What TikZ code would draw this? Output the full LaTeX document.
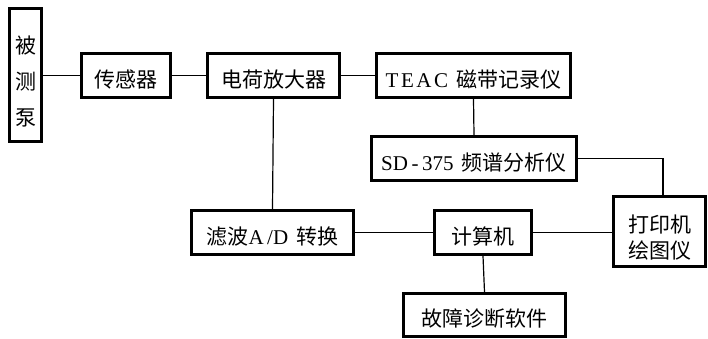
\documentclass[tikz,border=0pt]{standalone}
\usepackage{fontspec}
\setmainfont{Noto Sans CJK SC}
\newfontfamily\latinserif{Liberation Serif}
\begin{document}
\begin{tikzpicture}[x=1pt,y=1pt,
  box/.style={draw=black,line width=3pt,fill=white,inner sep=0pt,minimum height=44pt,
    text height=24pt,text depth=1pt,font=\fontsize{21}{25}\selectfont},
  conn/.style={draw=black,line width=1.2pt}]
\useasboundingbox (0,0) rectangle (708,338);
\node[box,minimum width=32pt,minimum height=133pt,text height=40pt,text depth=83pt,font=\fontsize{21}{36}\selectfont] (pump) at (25.5,263)
  {\begin{tabular}[t]{@{}c@{}}被\\测\\泵\end{tabular}};
\node[box,minimum width=89pt] (sensor) at (126,262.5) {传感器};
\node[box,minimum width=132pt] (amp) at (273.5,262.5) {电荷放大器};
\node[box,minimum width=194pt] (teac) at (473.5,262.5) {{\latinserif\addfontfeature{LetterSpace=12}TEAC}\, 磁带记录仪};
\node[box,minimum width=205pt] (sd) at (474,179.5) {{\latinserif SD\,-\,375}\, 频谱分析仪};
\node[box,minimum width=92pt,minimum height=60pt,text height=36pt,text depth=34pt,font=\fontsize{21}{26}\selectfont] (printer) at (659.5,106.5)
  {\begin{tabular}[t]{@{}c@{}}打印机\\绘图仪\end{tabular}};
\node[box,minimum width=97pt] (computer) at (483,105.5) {计算机};
\node[box,minimum width=162pt] (filter) at (272.5,105.5) {滤波{\latinserif A\,/D}\, 转换};
\node[box,minimum width=162pt,minimum height=43pt] (fault) at (484.5,23) {故障诊断软件};
\draw[conn] (pump.east |- sensor.west) -- (sensor.west);
\draw[conn] (sensor.east) -- (amp.west);
\draw[conn] (amp.east) -- (teac.west);
\draw[conn] (teac.south) -- (sd.north);
\draw[conn] (sd.east) -| ([xshift=3.5pt]printer.north);
\draw[conn] (amp.south) -- (filter.north);
\draw[conn] (filter.east) -- (computer.west);
\draw[conn] (computer.east) -- (printer.west |- computer.east);
\draw[conn] (computer.south) -- (fault.north);
\end{tikzpicture}
\end{document}
